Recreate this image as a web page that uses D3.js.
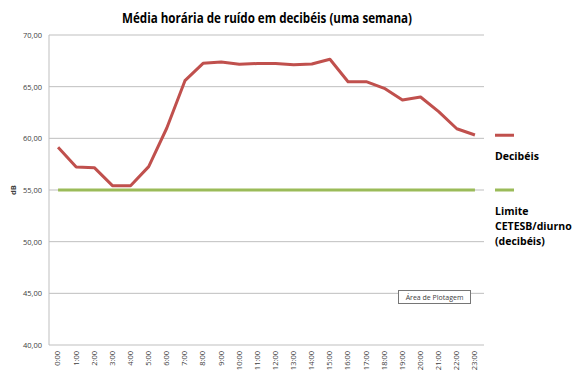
<!DOCTYPE html>
<html>
<head>
<meta charset="utf-8">
<script src="https://cdn.jsdelivr.net/npm/d3@7"></script>
<style>
  body { margin: 0; background: #fff; }
  svg { font-family: "Open Sans", "DejaVu Sans", sans-serif; }
</style>
</head>
<body>
<div id="chart"></div>
<script>
/*
 * Hourly noise average chart
 */

var hours = ["0:00","1:00","2:00","3:00","4:00","5:00","6:00","7:00","8:00","9:00","10:00","11:00",
             "12:00","13:00","14:00","15:00","16:00","17:00","18:00","19:00","20:00","21:00","22:00","23:00"];

var decibeis = [59.13, 57.23, 57.16, 55.42, 55.42, 57.26, 61.0, 65.58, 67.26, 67.39, 67.16, 67.24,
                67.24, 67.13, 67.19, 67.65, 65.48, 65.48, 64.84, 63.71, 64.0, 62.58, 60.93, 60.32];

var limite = [55, 55, 55, 55, 55, 55, 55, 55, 55, 55, 55, 55,
              55, 55, 55, 55, 55, 55, 55, 55, 55, 55, 55, 55];

var yTicks = [40, 45, 50, 55, 60, 65, 70];

var COLORS = {
  decibeis: "#C0504D",
  limite: "#9BBB59",
  grid: "#bfbfbf",
  text: "#404040"
};

var width = 578, height = 377;
var plot = { left: 49, right: 484, top: 35, bottom: 345 };

var svg = d3.select("#chart").append("svg").attr("width", width).attr("height", height);

var x = d3.scaleBand().domain(hours).range([plot.left, plot.right]);
var y = d3.scaleLinear().domain([40, 70]).range([plot.bottom, plot.top]);

// title
svg.append("text").attr("x", 267).attr("y", 22.5).attr("text-anchor", "middle")
  .attr("textLength", 290).attr("lengthAdjust", "spacingAndGlyphs")
  .style("font-size", "14.5px").style("font-weight", "bold").style("fill", "#000")
  .text("Média horária de ruído em decibéis (uma semana)");

// gridlines
svg.append("g").selectAll("line").data(yTicks).enter().append("line")
  .attr("x1", plot.left).attr("x2", plot.right)
  .attr("y1", function(d){ return y(d); }).attr("y2", function(d){ return y(d); })
  .style("stroke", COLORS.grid).style("stroke-width", 1);

// left axis line
svg.append("line").attr("x1", plot.left).attr("x2", plot.left)
  .attr("y1", plot.top).attr("y2", plot.bottom)
  .style("stroke", COLORS.grid);

// y axis labels
var yAxis = d3.axisLeft(y).tickValues(yTicks).tickSize(0).tickPadding(7)
  .tickFormat(function(d){ return d.toFixed(2).replace(".", ","); });
var gy = svg.append("g").attr("transform", "translate(" + plot.left + ",0)").call(yAxis);
gy.select(".domain").remove();
gy.selectAll("text").style("font-size", "7.5px").style("fill", COLORS.text).style("font-family", "'Open Sans', sans-serif");

// x axis labels
var xAxis = d3.axisBottom(x).tickSize(0).tickPadding(0);
var gx = svg.append("g").attr("transform", "translate(0," + plot.bottom + ")").call(xAxis);
gx.select(".domain").remove();
gx.selectAll("text")
  .attr("transform", "rotate(-90)")
  .attr("x", -6).attr("y", 0).attr("dy", "0.32em")
  .attr("text-anchor", "end")
  .style("font-size", "7.5px").style("fill", COLORS.text).style("font-family", "'Open Sans', sans-serif");

// y axis title
svg.append("text").attr("transform", "translate(16," + y(55) + ") rotate(-90)")
  .attr("text-anchor", "middle").style("font-size", "7.5px").style("font-weight", "bold")
  .style("fill", COLORS.text).text("dB");

// series lines
var line = d3.line()
  .x(function(d, i){ return x(hours[i]) + x.bandwidth() / 2; })
  .y(function(d){ return y(d); });

svg.append("path").datum(limite).attr("d", line)
  .style("fill", "none").style("stroke", COLORS.limite).style("stroke-width", 3);

svg.append("path").datum(decibeis).attr("d", line)
  .style("fill", "none").style("stroke", COLORS.decibeis).style("stroke-width", 3)
  .style("stroke-linejoin", "round");

// legend
var legend = [
  { color: COLORS.decibeis, y: y(60.3), lines: ["Decibéis"] },
  { color: COLORS.limite, y: y(55), lines: ["Limite", "CETESB/diurno", "(decibéis)"] }
];
legend.forEach(function(l){
  svg.append("line").attr("x1", 495).attr("x2", 514).attr("y1", l.y).attr("y2", l.y)
    .style("stroke", l.color).style("stroke-width", 3);
  l.lines.forEach(function(t, i){
    svg.append("text").attr("x", 495).attr("y", l.y + 25 + i * 15)
      .style("font-size", "10.5px").style("font-weight", "bold").style("fill", "#000").text(t);
  });
});

// plot area tooltip
svg.append("rect").attr("x", 398.5).attr("y", 290.5).attr("width", 72).attr("height", 13)
  .style("fill", "#fff").style("stroke", "#767676").style("stroke-width", 1);
svg.append("text").attr("x", 434.5).attr("y", 300).attr("text-anchor", "middle")
  .style("font-size", "7px").style("fill", "#404040").text("Área de Plotagem");
</script>
</body>
</html>
